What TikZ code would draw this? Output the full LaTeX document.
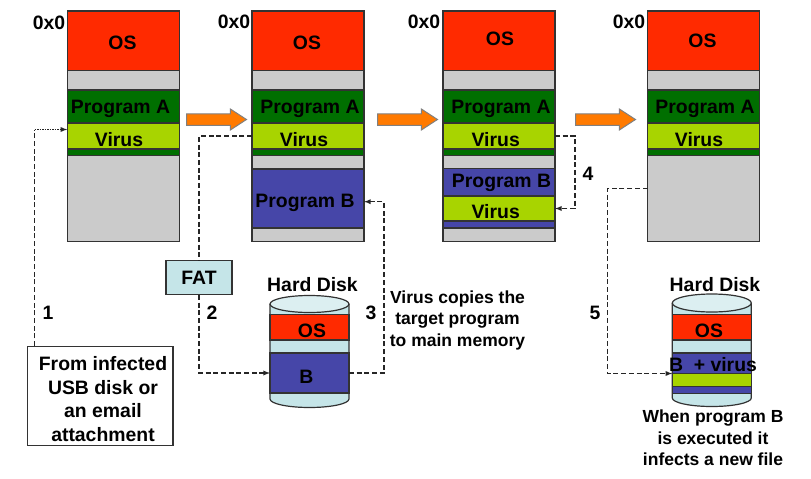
\documentclass[tikz,border=0pt]{standalone}
\usepackage{fontspec}
\setmainfont{Liberation Sans}
\usetikzlibrary{shapes.arrows}

\definecolor{osred}{HTML}{FF2A00}
\definecolor{memgrey}{HTML}{CBCBCB}
\definecolor{progA}{HTML}{006F00}
\definecolor{virusgreen}{HTML}{A8D400}
\definecolor{progB}{HTML}{4646A8}
\definecolor{steporange}{HTML}{FF7A00}
\definecolor{diskpale}{HTML}{C5E5E8}
\definecolor{disktop}{HTML}{DCEFF1}
\definecolor{edgegrey}{HTML}{333333}

\begin{document}
\begin{tikzpicture}[x=1pt,y=-1pt,
    font=\bfseries\fontsize{19.4}{23.5}\selectfont,
    memblock/.style={draw=edgegrey,line width=1.3pt,anchor=north west,inner sep=0pt,outer sep=0pt,minimum width=112pt},
    diskband/.style={draw=edgegrey,line width=1.2pt,anchor=north west,inner sep=0pt,outer sep=0pt,minimum width=79pt},
    memlabel/.style={inner sep=0pt,text height=13.7pt,text depth=0pt},
    note/.style={inner sep=0pt,align=center,font=\bfseries\fontsize{17.5}{21.5}\selectfont},
    stepnum/.style={inner sep=0pt,text height=13.7pt,text depth=0pt},
    steparrow/.style={single arrow,draw=gray,fill=steporange,line width=1pt,anchor=tail,inner sep=0pt,text height=10.5pt,text depth=0pt,
        minimum height=60pt,single arrow head extend=4.75pt,single arrow tip angle=66},
    link/.style={draw=black!85,line width=1.3pt,dash pattern=on 5pt off 2.7pt},
    tiplink/.style={link,-latex},
    diskbody/.style={draw=edgegrey,line width=1.2pt,fill=diskpale}]

    \useasboundingbox (0,0) rectangle (811,479);

    % Memory columns
    \foreach \col/\x in {A/67.3,B/252,C/443,D/647.5}{
        \node[memblock,fill=memgrey,minimum height=230.5pt] (grey\col) at (\x,11) {};
        \node[memblock,fill=osred,minimum height=59.5pt] (os\col) at (\x,11) {};
        \node[memblock,fill=progA,minimum height=65.5pt] (prog\col) at (\x,90) {};
        \node[memblock,fill=virusgreen,minimum height=26pt] (virus\col) at (\x,123) {};
    }

    % Program B in memory
    \node[memblock,fill=progB,minimum height=59pt] (progbB) at (252,169) {};
    \node[memblock,fill=progB,minimum height=59.5pt] (progbC) at (443,168.5) {};
    \node[memblock,fill=virusgreen,minimum height=25pt] (virusE) at (443,196) {};

    % Orange arrows
    \node[steparrow] (stepA) at (186,119.5) {};
    \node[steparrow] (stepB) at (377,119.5) {};
    \node[steparrow] (stepC) at (575,119.5) {};

    % Boxes
    \node[draw=edgegrey,line width=1.2pt,fill=diskpale,minimum width=66pt,minimum height=33.5pt,inner sep=0pt] (fat) at (199,277.5) {FAT};
    \node[draw=edgegrey,line width=1.3pt,minimum width=145.5pt,minimum height=99pt,inner sep=0pt,align=center] (usb) at (100.3,396.2) {};

    % Hard disk 1
    \draw[diskbody] (270,304) -- (270,399) arc[start angle=180,end angle=0,x radius=39.5,y radius=8.5] -- (349,304);
    \node[diskband,fill=osred,minimum height=25.5pt] (diskosA) at (270,314.5) {};
    \node[diskband,fill=progB,minimum height=40pt] (diskbA) at (270,353) {};
    \draw[diskbody,fill=disktop] (309.5,304) ellipse [x radius=39.5,y radius=8.5];

    % Hard disk 2
    \draw[diskbody] (672.3,303) -- (672.3,398) arc[start angle=180,end angle=0,x radius=39.5,y radius=8.5] -- (751.3,303);
    \node[diskband,fill=osred,minimum height=25.5pt] (diskosB) at (672.3,314.5) {};
    \node[diskband,fill=progB,minimum height=40.5pt] (diskbB) at (672.3,353) {};
    \node[diskband,fill=virusgreen,minimum height=13pt] (diskvirus) at (672.3,373.5) {};
    \draw[diskbody,fill=disktop] (711.8,303) ellipse [x radius=39.5,y radius=9];

    % Dashed links
    \coordinate (bendA) at (34.5,129.5);
    \draw[link] (usb.north west -| bendA) -- (bendA);
    \draw[draw=black!85,line width=1.3pt,dash pattern=on 1.5pt off 1pt,-latex] (bendA) -- ([yshift=6.5pt]virusA.west);
    \draw[link] (virusB.west) -| (fat.north);
    \draw[tiplink] (fat.south) |- (diskbA.west);
    \draw[tiplink] (diskbA.east) -- ++(35,0) |- ([yshift=-3.2pt]progbB.east);
    \draw[tiplink] (virusC.east) -- ++(20,0) |- (virusE.east);
    \draw[tiplink] ([yshift=-62.2pt]greyD.west) -- ++(-40,0) |- (diskvirus.north west);

    % Memory labels
    \node[memlabel] (addrA) at (49,23) {0x0};
    \node[memlabel] (addrB) at (234,22) {0x0};
    \node[memlabel] (addrC) at (424,22) {0x0};
    \node[memlabel] (addrD) at (629,22) {0x0};

    \node[memlabel] (ostextA) at (122.5,43) {OS};
    \node[memlabel] (ostextB) at (307,43) {OS};
    \node[memlabel] (ostextC) at (500,39) {OS};
    \node[memlabel] (ostextD) at (702.5,40.5) {OS};

    \node[memlabel] (progtextA) at (120.5,107) {Program A};
    \node[memlabel] (progtextB) at (310,107) {Program A};
    \node[memlabel] (progtextC) at (501,107) {Program A};
    \node[memlabel] (progtextD) at (705,107) {Program A};

    \node[memlabel] (virustextA) at (119,140) {Virus};
    \node[memlabel] (virustextB) at (304,140) {Virus};
    \node[memlabel] (virustextC) at (495.7,140) {Virus};
    \node[memlabel] (virustextD) at (699,140) {Virus};
    \node[memlabel] (virustextE) at (495.7,212) {Virus};

    \node[memlabel] (progbtextB) at (305,200.5) {Program B};
    \node[memlabel] (progbtextC) at (501.5,180.5) {Program B};

    % Disk labels
    \node[memlabel] (hardA) at (312.5,285) {Hard Disk};
    \node[memlabel] (hardB) at (715,285) {Hard Disk};
    \node[memlabel] (diskostextA) at (312,330.5) {OS};
    \node[memlabel] (diskostextB) at (709,330.5) {OS};
    \node[memlabel] (disktextA) at (306.5,377) {B};
    \node[memlabel] (disktextB) at (713,364.5) {B\ \ + virus};

    % Step numbers
    \node[stepnum] (numA) at (48,313) {1};
    \node[stepnum] (numB) at (212,313) {2};
    \node[stepnum] (numC) at (371,313) {3};
    \node[stepnum] (numD) at (588,173.5) {4};
    \node[stepnum] (numE) at (595,313) {5};

    % Notes
    \node[inner sep=0pt,align=center] (usbtext) at (103,399) {From infected\\USB disk or\\an email\\attachment};
    \node[note] (copytext) at (457.5,320) {Virus copies the\\target program\\to main memory};
    \node[note] (exectext) at (713,438) {When program B\\is executed it\\infects a new file};

\end{tikzpicture}
\end{document}
